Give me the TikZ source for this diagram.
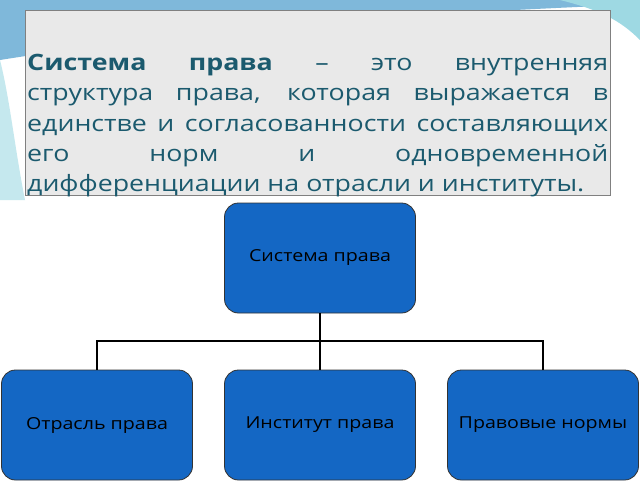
\documentclass[tikz,border=0pt]{standalone}
\usepackage{fontspec}
\setmainfont[FakeStretch=1.19]{Open Sans}
\definecolor{teal1}{HTML}{1B5A6E}
\definecolor{boxfill}{HTML}{E9E9E9}
\definecolor{nodeblue}{HTML}{1467C4}
\definecolor{wave1}{HTML}{7FB8DA}
\definecolor{wave2}{HTML}{9ED9E3}
\begin{document}
\begin{tikzpicture}[x=1pt,y=-1pt,
  blk/.style={draw=black!80,line width=0.8pt,fill=nodeblue,rounded corners=14pt,minimum width=191pt,minimum height=110pt,font=\fontsize{16.5}{20}\selectfont,text=black,inner sep=0pt},
  conn/.style={draw=black,line width=2pt}]
\useasboundingbox (0,0) rectangle (640,480);
\fill[white] (0,0) rectangle (640,480);
% decorative waves
\fill[wave1] (0,0) -- (720,0) .. controls (600,8) and (300,12) .. (0,60) -- cycle;
\fill[wave2] (560,0) -- (640,0) -- (640,40) .. controls (620,20) and (600,10) .. (560,0) -- cycle;
\fill[wave2!60] (0,60) .. controls (10,100) and (15,150) .. (25,200) -- (0,200) -- cycle;
% definition box
\node[draw=black!50,fill=boxfill,minimum width=585pt,minimum height=185pt,anchor=north west,inner sep=0pt] (def) at (25,10) {};
\node[anchor=north west,inner sep=0pt,text=teal1] (deftext) at (27,54) {\parbox{581pt}{\fontsize{22.5}{30.3}\selectfont\textbf{Система права} – это внутренняя\linebreak структура права, которая выражается в\linebreak единстве и согласованности составляющих\linebreak его норм и одновременной\linebreak дифференциации на отрасли и институты.}};
% tree
\node[blk] (top) at (320,258) {Система права};
\node[blk] (a) at (97,425) {Отрасль права};
\node[blk] (b) at (320,425) {Институт права};
\node[blk] (c) at (543,425) {Правовые нормы};
\coordinate (j) at (320,341);
\draw[conn] (top.south) -- (j);
\draw[conn] (a.north) |- (j) -| (c.north);
\draw[conn] (j) -- (b.north);
\end{tikzpicture}
\end{document}
